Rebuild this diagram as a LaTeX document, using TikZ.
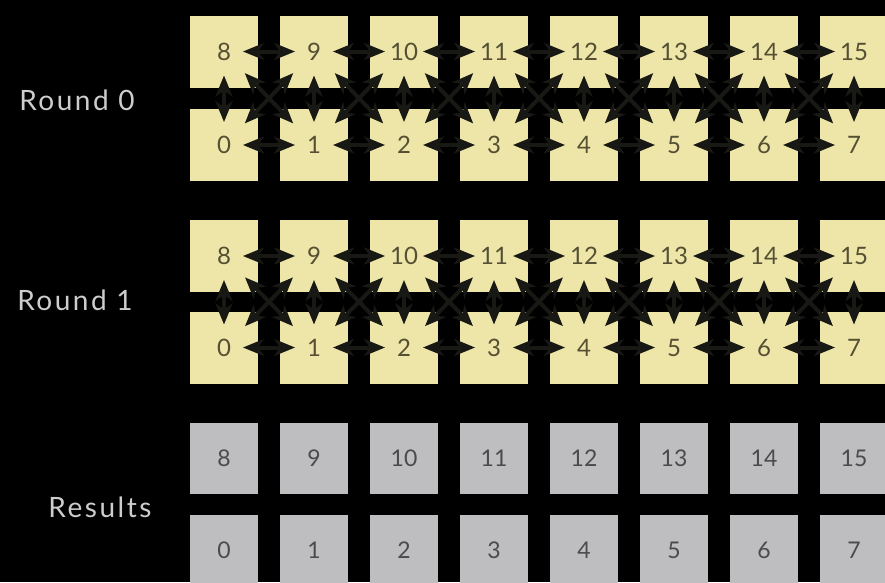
\documentclass[tikz,border=0pt]{standalone}
\usepackage{fontspec}
\setmainfont{Lato}
\usetikzlibrary{arrows.meta}
\definecolor{boxy}{RGB}{238,230,168}
\definecolor{boxg}{RGB}{190,190,192}
\definecolor{numy}{RGB}{85,80,52}
\definecolor{numg}{RGB}{75,75,78}
\definecolor{arrc}{RGB}{24,24,20}
\definecolor{lab}{RGB}{205,205,205}
\begin{document}
\begin{tikzpicture}[x=1pt,y=-1pt,
  ybox/.style={rectangle, fill=boxy, minimum width=68pt, minimum height=72pt, inner sep=0pt, text=numy, font=\fontsize{24}{24}\selectfont},
  gbox/.style={rectangle, fill=boxg, minimum width=68pt, minimum height=71pt, inner sep=0pt, text=numg, font=\fontsize{23}{23}\selectfont},
  comm/.style={draw=arrc, line width=4pt, {Stealth[length=21pt,width=17pt,inset=6pt]}-{Stealth[length=21pt,width=17pt,inset=6pt]}},
  lbl/.style={text=lab, font=\fontsize{28}{28}\selectfont\addfontfeature{LetterSpace=9}}]
\useasboundingbox (0,0) rectangle (885,582);
\fill[black] (0,0) rectangle (885,582);
\clip (0,0) rectangle (885,582);
% boxes
\foreach \i in {0,...,7}{
  \pgfmathtruncatemacro{\hi}{\i+8}
  \pgfmathsetmacro{\cx}{224+90*\i}
  \node[ybox] (r0t\i) at (\cx,51.5) {\hi};
  \node[ybox] (r0b\i) at (\cx,145) {\i};
  \node[ybox] (r1t\i) at (\cx,256) {\hi};
  \node[ybox] (r1b\i) at (\cx,347.5) {\i};
  \node[gbox] (rst\i) at (\cx,458) {\hi};
  \node[gbox] (rsb\i) at (\cx,550.5) {\i};
}
% communication arrows
\foreach \r in {0,1}{
  \foreach \i in {0,...,7}{
    \draw[comm, shorten <=24pt, shorten >=23pt] (r\r t\i.center) -- (r\r b\i.center);
  }
  \foreach \i in {0,...,6}{
    \pgfmathtruncatemacro{\j}{\i+1}
    \draw[comm, shorten <=19pt, shorten >=19pt] (r\r t\i.center) -- (r\r t\j.center);
    \draw[comm, shorten <=19pt, shorten >=19pt] (r\r b\i.center) -- (r\r b\j.center);
    \draw[comm, shorten <=30pt, shorten >=30pt] (r\r t\i.center) -- (r\r b\j.center);
    \draw[comm, shorten <=30pt, shorten >=30pt] (r\r b\i.center) -- (r\r t\j.center);
  }
}
% labels
\node[lbl] (l0) at (77,100) {Round 0};
\node[lbl] (l1) at (75,300) {Round 1};
\node[lbl] (l2) at (100,507) {Results};
\end{tikzpicture}
\end{document}
